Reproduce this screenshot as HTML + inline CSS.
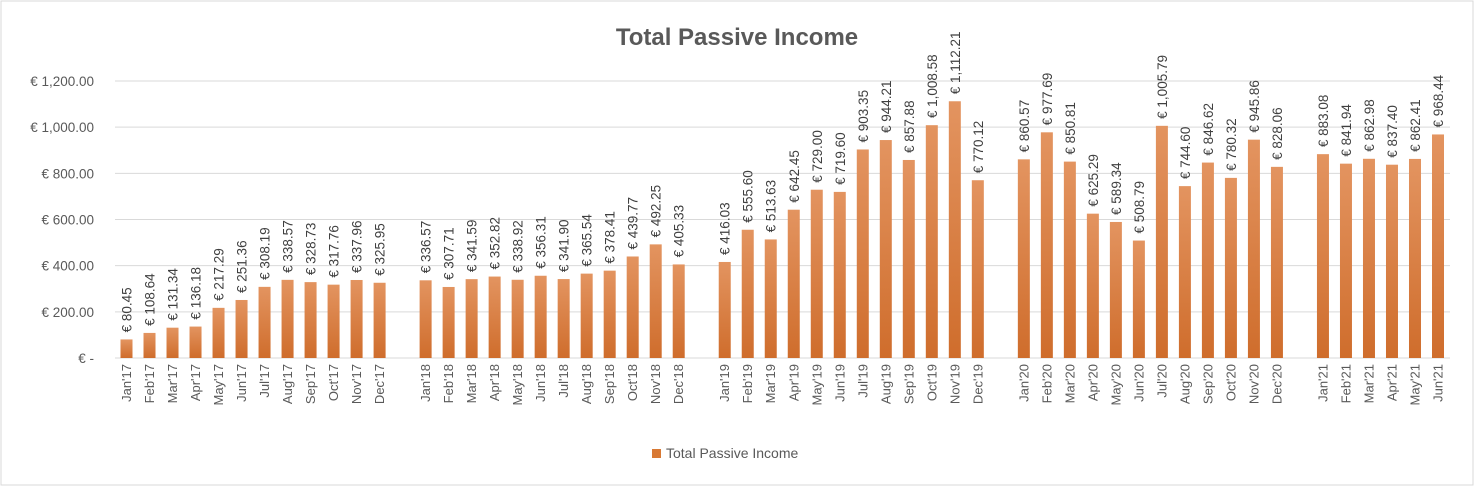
<!DOCTYPE html>
<html><head><meta charset="utf-8"><style>
html,body{margin:0;padding:0;background:#fff;}
svg{display:block;font-family:"Liberation Sans",sans-serif;}
</style></head><body>
<svg id="chart" width="1474" height="486" viewBox="0 0 1474 486">
<defs><linearGradient id="bg" x1="0" y1="0" x2="0" y2="1"><stop offset="0" stop-color="#e39460"/><stop offset="1" stop-color="#cf6d2c"/></linearGradient></defs>
<rect x="1" y="1" width="1472" height="484" fill="#fff" stroke="#d9d9d9"/>
<text x="737" y="45" text-anchor="middle" font-size="24" font-weight="bold" fill="#595959">Total Passive Income</text>
<g id="grid"></g><g id="yax"></g><g id="bars"></g><g id="labels"></g><g id="xax"></g>
<g>
<rect x="652" y="449" width="9" height="9" fill="#d87934"/>
<text x="666" y="458" font-size="14" fill="#595959">Total Passive Income</text>
</g>
</svg>
<script>
const categories=["Jan'17","Feb'17","Mar'17","Apr'17","May'17","Jun'17","Jul'17","Aug'17","Sep'17","Oct'17","Nov'17","Dec'17","",
"Jan'18","Feb'18","Mar'18","Apr'18","May'18","Jun'18","Jul'18","Aug'18","Sep'18","Oct'18","Nov'18","Dec'18","",
"Jan'19","Feb'19","Mar'19","Apr'19","May'19","Jun'19","Jul'19","Aug'19","Sep'19","Oct'19","Nov'19","Dec'19","",
"Jan'20","Feb'20","Mar'20","Apr'20","May'20","Jun'20","Jul'20","Aug'20","Sep'20","Oct'20","Nov'20","Dec'20","",
"Jan'21","Feb'21","Mar'21","Apr'21","May'21","Jun'21"];
const values=[80.45,108.64,131.34,136.18,217.29,251.36,308.19,338.57,328.73,317.76,337.96,325.95,null,
336.57,307.71,341.59,352.82,338.92,356.31,341.90,365.54,378.41,439.77,492.25,405.33,null,
416.03,555.60,513.63,642.45,729.00,719.60,903.35,944.21,857.88,1008.58,1112.21,770.12,null,
860.57,977.69,850.81,625.29,589.34,508.79,1005.79,744.60,846.62,780.32,945.86,828.06,null,
883.08,841.94,862.98,837.40,862.41,968.44];
const yTicks=[0,200,400,600,800,1000,1200];
const yTickLabels=["€ -","€ 200.00","€ 400.00","€ 600.00","€ 800.00","€ 1,000.00","€ 1,200.00"];
const NS="http://www.w3.org/2000/svg";
const y0=358,yTop=81,plotL=115,plotR=1450,c0=126.5,step=(1438-126.5)/(categories.length-1),bw=12;
const y=v=>y0-(v/1200)*(y0-yTop);
const x=i=>c0+i*step;
function mk(t,a,p){const e=document.createElementNS(NS,t);for(const k in a)e.setAttribute(k,a[k]);document.getElementById(p).appendChild(e);return e;}
function fmt(v){return "€ "+v.toLocaleString("en-US",{minimumFractionDigits:2,maximumFractionDigits:2});}
yTicks.forEach((t,i)=>{
 const l=mk("line",{x1:plotL,x2:plotR,y1:y(t),y2:y(t),stroke:"#d9d9d9","stroke-width":1},"grid");
 
 
 const tx=mk("text",{x:94,y:y(t)+5,"text-anchor":"end","font-size":13.5,fill:"#595959"},"yax");
 tx.textContent=yTickLabels[i];
 
 
});
categories.forEach((c,i)=>{
 const cx=x(i);
 if(c){
  const t=mk("text",{x:0,y:0,"text-anchor":"end","font-size":13,fill:"#595959",transform:`translate(${cx+4.5},364) rotate(-90)`},"xax");
  t.textContent=c;
  
  
 }
 const v=values[i];
 if(v==null)return;
 const r=mk("rect",{x:cx-bw/2,y:y(v),width:bw,height:y0-y(v),fill:"url(#bg)"},"bars");
 
 
 const t=mk("text",{x:0,y:0,"text-anchor":"start","font-size":13.5,fill:"#404040",transform:`translate(${cx+5},${y(v)-7}) rotate(-90)`},"labels");
 t.textContent=fmt(v);
 
 
});
</script>
</body></html>
